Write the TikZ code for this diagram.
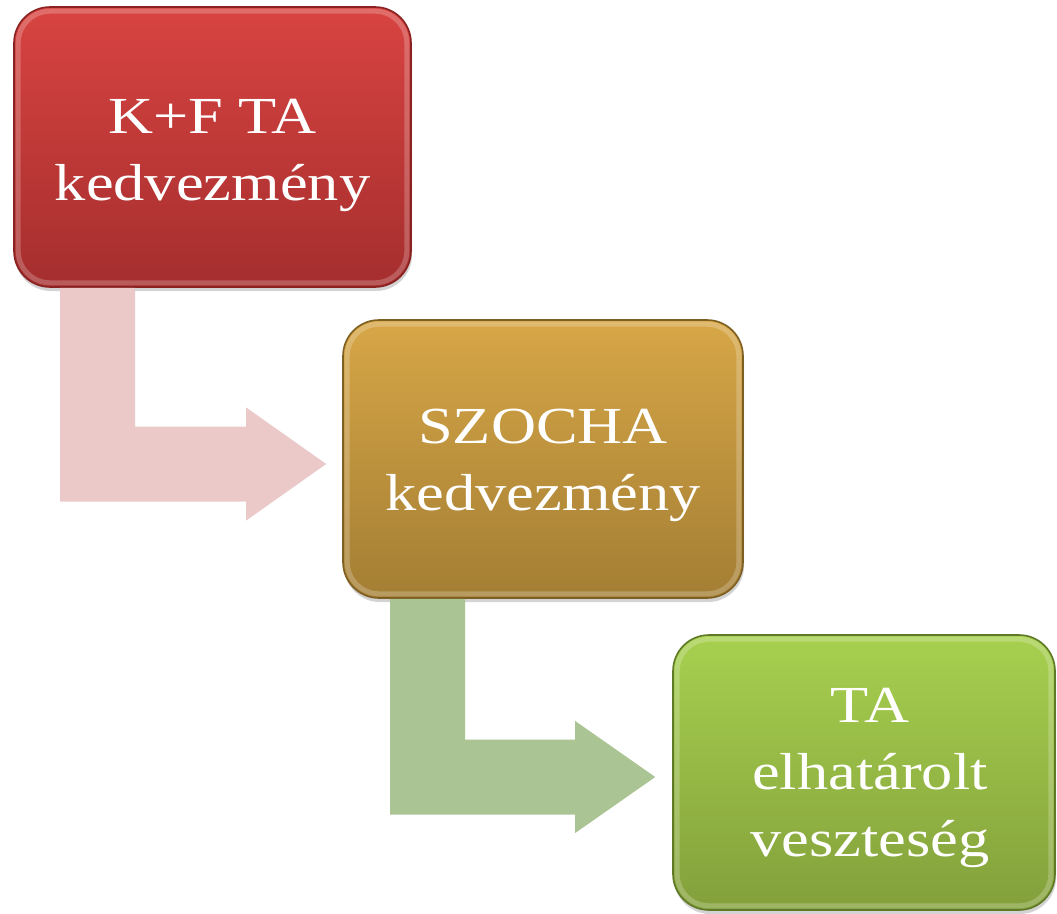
\documentclass[tikz,border=0pt]{standalone}
\usepackage{fontspec}
\setmainfont[FakeStretch=1.2]{Liberation Serif}
\usetikzlibrary{calc,shadows}
\definecolor{redtop}{HTML}{D84441}
\definecolor{redbot}{HTML}{A52E2E}
\definecolor{redline}{HTML}{8A2222}
\definecolor{goldtop}{HTML}{D7A747}
\definecolor{goldbot}{HTML}{A47E34}
\definecolor{goldline}{HTML}{7E5F22}
\definecolor{greentop}{HTML}{A7D04F}
\definecolor{greenbot}{HTML}{83A03B}
\definecolor{greenline}{HTML}{5F7A26}
\definecolor{pinkarr}{HTML}{EBC9C9}
\definecolor{greenarr}{HTML}{ABC493}
\begin{document}
\begin{tikzpicture}[x=1pt,y=-1pt,
  box/.style={rectangle, rounded corners=36pt, line width=1.6pt, inner sep=0pt,
    drop shadow={shadow xshift=1pt, shadow yshift=-4pt, opacity=0.35}},
  bevel/.style={draw=white, draw opacity=0.22, line width=5pt, rounded corners=32pt},
  lbl/.style={text=white, align=center, inner sep=0pt,
    font=\fontsize{52}{67}\selectfont},
  arrowfill/.style={fill=#1, draw=none}]
\useasboundingbox (0,0) rectangle (1057,913);

% boxes
\node[box, minimum width=397pt, minimum height=280pt, top color=redtop, bottom color=redbot, draw=redline] (kf) at (212.5,147) {};
\node[box, minimum width=400pt, minimum height=278pt, top color=goldtop, bottom color=goldbot, draw=goldline] (szocha) at (543,459) {};
\node[box, minimum width=382pt, minimum height=275pt, top color=greentop, bottom color=greenbot, draw=greenline] (ta) at (864,772.5) {};

% bevel highlights
\draw[bevel] ($(kf.north west)+(5,5)$) rectangle ($(kf.south east)+(-5,-5)$);
\draw[bevel] ($(szocha.north west)+(5,5)$) rectangle ($(szocha.south east)+(-5,-5)$);
\draw[bevel] ($(ta.north west)+(5,5)$) rectangle ($(ta.south east)+(-5,-5)$);

% labels
\node[lbl] (kft) at ($(kf.center)+(0,8)$) {K+F TA\\kedvezmény};
\node[lbl] (szt) at ($(szocha.center)+(0,6)$) {SZOCHA\\kedvezmény};
\node[lbl] (tat) at ($(ta.center)+(6,5)$) {TA\\elhatárolt\\veszteség};

% bent arrows
\fill[arrowfill=pinkarr] ([xshift=47pt]kf.south west) -- ([xshift=122pt]kf.south west)
  |- ($(szocha.west)+(-96,-32.5)$) -- ++(0,-19) -- ($(szocha.west)+(-16,5)$)
  -- ++(-80,56.5) -- ++(0,-19) -| ([xshift=47pt]kf.south west) -- cycle;
\fill[arrowfill=greenarr] ([xshift=48pt]szocha.south west) -- ([xshift=123pt]szocha.south west)
  |- ($(ta.west)+(-97,-33)$) -- ++(0,-18.5) -- ($(ta.west)+(-17,4.5)$)
  -- ++(-80,56) -- ++(0,-18.5) -| ([xshift=48pt]szocha.south west) -- cycle;
\end{tikzpicture}
\end{document}
